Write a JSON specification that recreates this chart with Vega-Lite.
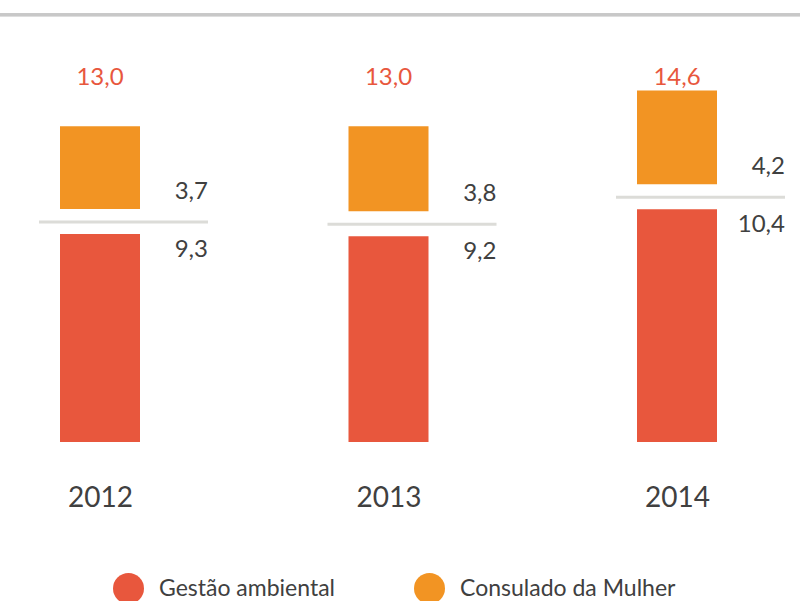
{
  "$schema": "https://vega.github.io/schema/vega-lite/v6.json",
  "autosize": "none",
  "width": 800,
  "height": 442,
  "padding": {"left": 0, "top": 0, "right": 0, "bottom": 159},
  "background": "white",
  "config": {
    "view": {"stroke": null},
    "font": "Lato"
  },
  "data": {
    "values": [
      {"year": "2012", "gestao": 9.3, "consulado": 3.7, "total": 13.0},
      {"year": "2013", "gestao": 9.2, "consulado": 3.8, "total": 13.0},
      {"year": "2014", "gestao": 10.4, "consulado": 4.2, "total": 14.6}
    ]
  },
  "layer": [
    {
      "mark": {"type": "bar", "width": 80},
      "encoding": {
        "x": {
          "field": "year",
          "type": "ordinal",
          "scale": {"type": "point", "range": [100, 677], "padding": 0},
          "axis": {
            "title": null,
            "domain": false,
            "ticks": false,
            "labelPadding": 42,
            "labelFontSize": 28,
            "labelFont": "Lato",
            "labelColor": "#404040",
            "labelAngle": 0
          }
        },
        "y": {
          "field": "gestao",
          "type": "quantitative",
          "scale": {"domain": [0, 19.76], "nice": false, "zero": true},
          "axis": null
        },
        "color": {
          "datum": "Gestão ambiental",
          "scale": {"domain": ["Gestão ambiental", "Consulado da Mulher"], "range": ["#E8573D", "#F29423"]},
          "legend": {
            "title": null,
            "orient": "none",
            "legendX": 113,
            "legendY": 573,
            "direction": "horizontal",
            "symbolType": "circle",
            "symbolSize": 961,
            "symbolStrokeWidth": 0,
            "symbolOpacity": 1,
            "labelFontSize": 23,
            "labelFont": "Lato",
            "labelColor": "#404040",
            "labelOffset": 15,
            "columnPadding": 78,
            "padding": 0,
            "labelLimit": 400
          }
        }
      }
    },
    {
      "mark": {"type": "bar", "width": 80, "yOffset": -25, "y2Offset": -25},
      "encoding": {
        "x": {"field": "year", "type": "ordinal"},
        "y": {"field": "total", "type": "quantitative"},
        "y2": {"field": "gestao"},
        "color": {"datum": "Consulado da Mulher"}
      }
    },
    {
      "mark": {"type": "tick", "orient": "horizontal", "color": "#DCDCD8", "opacity": 1, "thickness": 3, "size": 169, "yOffset": -12, "xOffset": 23.5},
      "encoding": {
        "x": {"field": "year", "type": "ordinal"},
        "y": {"field": "gestao", "type": "quantitative"}
      }
    },
    {
      "mark": {"type": "text", "align": "right", "baseline": "middle", "dx": 108, "dy": 16, "fontSize": 24, "font": "Lato", "color": "#404040",
        "text": {"expr": "replace(format(datum.gestao, '.1f'), '.', ',')"}},
      "encoding": {
        "x": {"field": "year", "type": "ordinal"},
        "y": {"field": "gestao", "type": "quantitative"}
      }
    },
    {
      "mark": {"type": "text", "align": "right", "baseline": "middle", "dx": 108, "dy": -42, "fontSize": 24, "font": "Lato", "color": "#404040",
        "text": {"expr": "replace(format(datum.consulado, '.1f'), '.', ',')"}},
      "encoding": {
        "x": {"field": "year", "type": "ordinal"},
        "y": {"field": "gestao", "type": "quantitative"}
      }
    },
    {
      "mark": {"type": "text", "align": "center", "baseline": "middle", "fontSize": 24, "font": "Lato", "color": "#E8573D",
        "text": {"expr": "replace(format(datum.total, '.1f'), '.', ',')"}},
      "encoding": {
        "x": {"field": "year", "type": "ordinal"},
        "y": {"datum": 16.27, "type": "quantitative"}
      }
    },
    {
      "mark": {"type": "rule", "color": "#C8C8C8", "strokeWidth": 3},
      "encoding": {
        "y": {"datum": 19.1, "type": "quantitative"}
      }
    }
  ]
}
